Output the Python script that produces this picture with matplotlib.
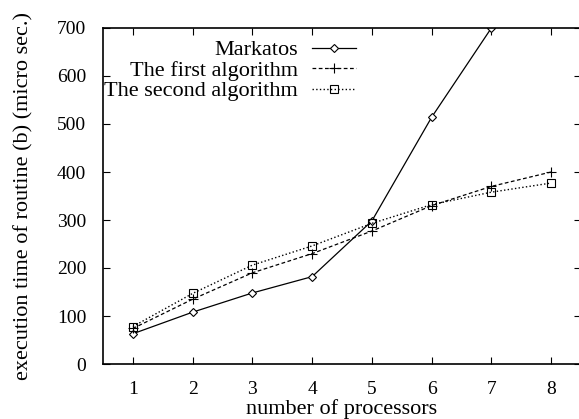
import matplotlib
matplotlib.use('Agg')
import matplotlib.pyplot as plt

procs = [1, 2, 3, 4, 5, 6, 7]
procs8 = [1, 2, 3, 4, 5, 6, 7, 8]
markatos = [63, 108, 148, 182, 298, 514, 700]
first_alg = [74, 135, 190, 230, 277, 330, 370, 400]
second_alg = [78, 147, 206, 246, 293, 332, 358, 377]

plt.rcParams['font.family'] = 'Liberation Serif'
plt.rcParams['font.size'] = 14

fig = plt.figure(figsize=(5.79, 4.19), dpi=100)
ax = fig.add_axes([103/579, 55/419, 478/579, 336/419])

ax.plot(procs, markatos, '-', color='black', lw=0.9, marker='D', ms=4,
        mfc='white', mew=0.8, label='Markatos')
ax.plot(procs8, first_alg, '--', color='black', lw=0.9, marker='+', ms=7,
        mew=0.8, dashes=(3, 2), label='The first algorithm')
ax.plot(procs8, second_alg, ':', color='black', lw=1.0, marker='s', ms=6,
        mfc='none', mew=0.8, label='The second algorithm')

ax.set_xlim(0.5, 8.5)
ax.set_ylim(0, 700)
ax.set_xticks(procs8)
ax.set_yticks(range(0, 701, 100))
ax.tick_params(direction='in', top=True, right=True, length=5, width=0.8, pad=12)
ax.set_xlabel('number of processors', fontsize=16, labelpad=1)
ax.set_ylabel('execution time of routine (b) (micro sec.)', fontsize=16, labelpad=17)
for s in ax.spines.values():
    s.set_linewidth(1.2)

ax.legend(loc='upper right', bbox_to_anchor=(356/579, 0.905),
          bbox_transform=fig.transFigure, frameon=False,
          markerfirst=False, handlelength=2.0, labelspacing=0.0,
          borderpad=0.0, borderaxespad=0.0, handletextpad=0.6, fontsize=16)

fig.savefig('out.png', dpi=100)
